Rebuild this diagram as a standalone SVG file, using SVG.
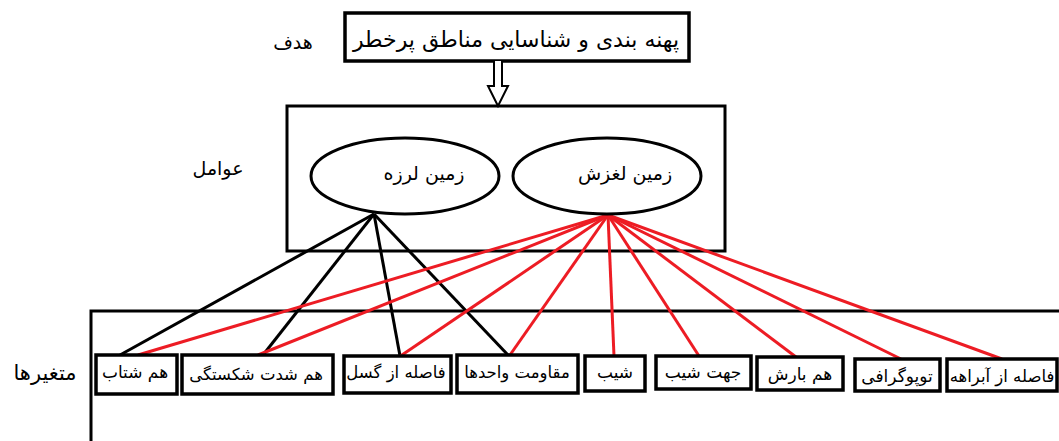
<svg xmlns="http://www.w3.org/2000/svg" width="1059" height="441" viewBox="0 0 1059 441">
<style>
.box{fill:#fff;stroke:#000;stroke-width:3.5}
.frame{fill:none;stroke:#000;stroke-width:3}
.t{font-family:"DejaVu Sans","Noto Sans",sans-serif;fill:#000;text-anchor:middle;dominant-baseline:central;direction:rtl}
.blk{stroke:#000;stroke-width:3;fill:none}
.red{stroke:#ed1c24;stroke-width:3;fill:none}
</style>
<rect width="1059" height="441" fill="#fff"/>
<g id="goal-label"><text class="t" x="293" y="42" font-size="19">هدف</text></g>
<g id="goal">
<rect class="box" x="345" y="13" width="344" height="48"/>
<text class="t" x="516" y="39" font-size="22">پهنه بندی و شناسایی مناطق پرخطر</text>
</g>
<g id="factors-label"><text class="t" x="218" y="168" font-size="19">عوامل</text></g>
<g id="factors"><rect class="frame" x="287" y="106" width="438" height="145"/></g>
<g id="vars-label"><text class="t" x="45" y="373" font-size="21">متغیرها</text></g>
<g id="variables"><path class="frame" d="M91,441 V311 H1059"/></g>
<g id="arrow"><path d="M494,61 V86 H488 L498,106 L508,86 H502 V61" fill="#fff" stroke="#000" stroke-width="2"/></g>
<g id="connectors">
<line class="blk" x1="374" y1="214" x2="120" y2="355"/>
<line class="blk" x1="374" y1="214" x2="263" y2="355"/>
<line class="blk" x1="374" y1="214" x2="400" y2="356"/>
<line class="blk" x1="374" y1="214" x2="508" y2="355"/>
<line class="red" x1="608" y1="215" x2="138" y2="355"/>
<line class="red" x1="608" y1="215" x2="258" y2="355"/>
<line class="red" x1="608" y1="215" x2="399" y2="357"/>
<line class="red" x1="608" y1="215" x2="510" y2="355"/>
<line class="red" x1="608" y1="215" x2="614" y2="356"/>
<line class="red" x1="608" y1="215" x2="699" y2="356"/>
<line class="red" x1="608" y1="215" x2="796" y2="357"/>
<line class="red" x1="608" y1="215" x2="901" y2="359"/>
<line class="red" x1="608" y1="215" x2="1002" y2="359"/>
</g>
<g id="earthquake">
<ellipse class="frame" cx="405" cy="176" rx="94" ry="38"/>
<text class="t" x="424" y="173" font-size="19">زمین لرزه</text>
</g>
<g id="landslide">
<ellipse class="frame" cx="607" cy="176" rx="94" ry="38"/>
<text class="t" x="625" y="173" font-size="19">زمین لغزش</text>
</g>
<g id="v1"><rect class="box" x="96" y="355" width="81" height="39"/><text class="t" x="135" y="372" font-size="17">هم شتاب</text></g>
<g id="v2"><rect class="box" x="182" y="355" width="151" height="39"/><text class="t" x="256" y="374" font-size="16.5">هم شدت شکستگی</text></g>
<g id="v3"><rect class="box" x="344" y="356" width="107" height="37"/><text class="t" x="396" y="372" font-size="16.5">فاصله از گسل</text></g>
<g id="v4"><rect class="box" x="457" y="355" width="121" height="38"/><text class="t" x="517" y="372" font-size="16.5">مقاومت واحدها</text></g>
<g id="v5"><rect class="box" x="585" y="356" width="60" height="35"/><text class="t" x="615" y="372" font-size="17">شیب</text></g>
<g id="v6"><rect class="box" x="656" y="356" width="95" height="33"/><text class="t" x="703" y="372" font-size="17">جهت شیب</text></g>
<g id="v7"><rect class="box" x="757" y="357" width="86" height="33"/><text class="t" x="800" y="374" font-size="17">هم بارش</text></g>
<g id="v8"><rect class="box" x="855" y="359" width="85" height="32"/><text class="t" x="897" y="376" font-size="17">توپوگرافی</text></g>
<g id="v9"><rect class="box" x="947" y="359" width="110" height="32"/><text class="t" x="1002" y="376" font-size="16.5">فاصله از آبراهه</text></g>
</svg>
